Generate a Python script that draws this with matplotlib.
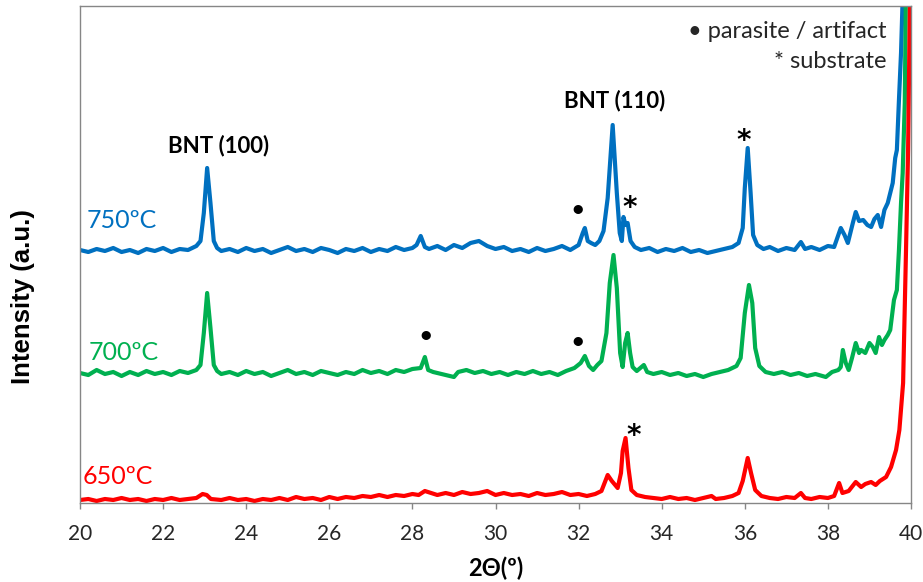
# XRD patterns of BNT films annealed at 650, 700 and 750 C.

import matplotlib
matplotlib.use('Agg')
import matplotlib.pyplot as plt

# 750 C (blue), intensity in arbitrary units
x_750 = [20.0, 20.2, 20.4, 20.6, 20.8, 21.0, 21.2, 21.4, 21.6, 21.8, 22.0, 22.2, 22.4, 22.6, 22.8,
         22.9, 22.98, 23.06, 23.14, 23.22, 23.3, 23.4, 23.6, 23.8, 24.0, 24.2, 24.4, 24.6, 24.8,
         25.0, 25.2, 25.4, 25.6, 25.8, 26.0, 26.2, 26.4, 26.6, 26.8, 27.0, 27.2, 27.4, 27.6, 27.8,
         28.0, 28.1, 28.2, 28.3, 28.4, 28.6, 28.8, 29.0, 29.2, 29.4, 29.6, 29.8, 30.0, 30.2, 30.4,
         30.6, 30.8, 31.0, 31.2, 31.4, 31.6, 31.8, 32.0, 32.1, 32.15, 32.22, 32.3, 32.4, 32.5, 32.6,
         32.7, 32.82, 32.92, 32.99, 33.04, 33.08, 33.13, 33.18, 33.25, 33.35, 33.5, 33.7, 33.9,
         34.1, 34.3, 34.5, 34.7, 34.9, 35.1, 35.3, 35.5, 35.7, 35.85, 35.95, 36.0, 36.07, 36.14,
         36.2, 36.3, 36.45, 36.6, 36.8, 37.0, 37.2, 37.35, 37.45, 37.6, 37.8, 38.0, 38.15, 38.31,
         38.4, 38.48, 38.6, 38.67, 38.75, 38.85, 38.95, 39.04, 39.12, 39.2, 39.28, 39.36, 39.44,
         39.5, 39.56, 39.62, 39.66, 39.71, 39.76, 39.81, 39.86]
y_750 = [253, 251, 254, 252, 255, 251, 253, 250, 254, 252, 255, 251, 254, 253, 257,
         262, 290, 335, 300, 262, 255, 252, 254, 251, 255, 252, 254, 250, 253,
         256, 252, 254, 251, 255, 253, 250, 254, 252, 255, 251, 254, 252, 256, 253,
         255, 258, 267, 256, 254, 257, 253, 258, 255, 260, 262, 257, 254, 256, 252,
         254, 251, 255, 252, 254, 257, 253, 258, 270, 275, 262, 260, 258, 262, 272,
         305, 378, 310, 270, 262, 286, 278, 280, 262, 256, 253, 255, 251,
         254, 252, 255, 251, 253, 250, 252, 254, 256, 260, 275, 315, 355, 310,
         268, 258, 254, 256, 252, 255, 253, 261, 254, 256, 253, 257, 256, 275,
         268, 260, 280, 291, 282, 283, 278, 276, 284, 288, 276, 293, 300,
         310, 320, 345, 353, 403, 450, 520, 600]

# 700 C (green)
x_700 = [20.0, 20.2, 20.4, 20.6, 20.8, 21.0, 21.2, 21.4, 21.6, 21.8, 22.0, 22.2, 22.4, 22.6, 22.8,
         22.9, 22.98, 23.06, 23.14, 23.22, 23.3, 23.4, 23.6, 23.8, 24.0, 24.2, 24.4, 24.6, 24.8,
         25.0, 25.2, 25.4, 25.6, 25.8, 26.0, 26.2, 26.4, 26.6, 26.8, 27.0, 27.2, 27.4, 27.6, 27.8,
         28.0, 28.2, 28.3, 28.38, 28.5, 28.7, 28.9, 29.0, 29.1, 29.3, 29.5, 29.7, 29.9, 30.1, 30.3,
         30.5, 30.7, 30.9, 31.1, 31.3, 31.5, 31.7, 31.9, 32.05, 32.15, 32.25, 32.35, 32.45, 32.55,
         32.67, 32.75, 32.84, 32.92, 33.0, 33.06, 33.12, 33.18, 33.24, 33.3, 33.4, 33.57, 33.65,
         33.8, 34.0, 34.2, 34.4, 34.6, 34.8, 35.0, 35.2, 35.4, 35.6, 35.8, 35.9, 36.0, 36.1, 36.18,
         36.25, 36.35, 36.5, 36.7, 36.9, 37.1, 37.3, 37.5, 37.7, 37.95, 38.1, 38.25, 38.31, 38.36,
         38.43, 38.5, 38.58, 38.67, 38.75, 38.8, 38.9, 39.0, 39.08, 39.15, 39.23, 39.3, 39.36,
         39.44, 39.5, 39.59, 39.66, 39.71, 39.76, 39.8, 39.85, 39.88, 39.92]
y_700 = [130, 128, 133, 129, 131, 127, 131, 128, 132, 129, 131, 128, 132, 130, 133,
         138, 170, 210, 175, 138, 132, 129, 131, 128, 132, 129, 131, 127, 130,
         133, 129, 131, 128, 132, 130, 128, 131, 129, 133, 130, 132, 129, 133, 131,
         134, 135, 146, 133, 131, 129, 127, 126, 131, 133, 130, 132, 129, 131, 128,
         131, 129, 132, 129, 131, 128, 132, 135, 140, 147, 137, 133, 138, 142,
         170, 220, 248, 215, 150, 136, 160, 170, 150, 136, 132, 138, 131,
         129, 131, 128, 130, 127, 129, 126, 129, 131, 133, 137, 145, 190, 218, 200,
         155, 137, 131, 129, 131, 128, 130, 127, 129, 126, 131, 133, 136, 153,
         140, 133, 145, 160, 150, 153, 150, 160, 156, 150, 166, 158, 163,
         168, 173, 203, 213, 253, 300, 330, 400, 520, 620]

# 650 C (red)
x_650 = [20.0, 20.2, 20.4, 20.6, 20.8, 21.0, 21.2, 21.4, 21.6, 21.8, 22.0, 22.2, 22.4, 22.6, 22.8,
         22.95, 23.05, 23.15, 23.4, 23.6, 23.8, 24.0, 24.2, 24.4, 24.6, 24.8, 25.0, 25.2, 25.4,
         25.6, 25.8, 26.0, 26.2, 26.4, 26.6, 26.8, 27.0, 27.2, 27.4, 27.6, 27.8, 28.0, 28.15, 28.3,
         28.45, 28.6, 28.8, 29.0, 29.2, 29.4, 29.6, 29.8, 30.0, 30.2, 30.4, 30.6, 30.8, 31.0, 31.2,
         31.4, 31.6, 31.8, 32.0, 32.2, 32.4, 32.55, 32.7, 32.8, 32.94, 33.02, 33.06, 33.13, 33.2,
         33.27, 33.4, 33.6, 33.8, 34.0, 34.2, 34.4, 34.6, 34.8, 35.0, 35.2, 35.3, 35.5, 35.7,
         35.85, 35.95, 36.07, 36.15, 36.25, 36.4, 36.6, 36.8, 37.0, 37.2, 37.35, 37.45, 37.6,
         37.8, 38.0, 38.15, 38.27, 38.35, 38.5, 38.67, 38.8, 38.9, 39.04, 39.15, 39.25, 39.4,
         39.52, 39.64, 39.72, 39.81, 39.88, 39.93, 39.98]
y_650 = [3, 4, 2, 4, 3, 5, 3, 4, 2, 4, 3, 5, 3, 4, 5,
         9, 8, 4, 3, 5, 3, 4, 2, 4, 3, 5, 3, 6, 4,
         5, 3, 6, 4, 6, 5, 7, 6, 8, 6, 8, 7, 9, 8, 12,
         10, 8, 10, 8, 11, 9, 10, 12, 8, 10, 8, 9, 7, 10, 8,
         9, 11, 8, 9, 7, 9, 12, 28, 22, 15, 30, 52, 65, 35,
         13, 8, 6, 5, 4, 6, 4, 5, 3, 5, 7, 4, 5, 7,
         10, 22, 45, 30, 13, 7, 5, 4, 6, 5, 10, 5, 4,
         6, 5, 7, 20, 10, 12, 21, 16, 19, 21, 18, 22, 26,
         36, 53, 73, 120, 253, 353, 520]

tick_values = [20, 22, 24, 26, 28, 30, 32, 34, 36, 38, 40]
grey = '#868686'
blue = '#0070C0'
green = '#00B050'
red = '#FF0000'

plt.rcParams['font.family'] = ['Lato', 'DejaVu Sans']

fig = plt.figure(figsize=(9.23, 5.82), dpi=100)
ax = fig.add_axes([80 / 923, 79 / 582, 831 / 923, 497 / 582])

ax.plot(x_750, y_750, color=blue, linewidth=3.0, solid_joinstyle='round')
ax.plot(x_700, y_700, color=green, linewidth=3.0, solid_joinstyle='round')
ax.plot(x_650, y_650, color=red, linewidth=3.0, solid_joinstyle='round')

ax.set_xlim(20, 40)
ax.set_ylim(0, 497)
ax.set_xticks(tick_values)
ax.set_yticks([])
ax.tick_params(axis='x', direction='out', length=4, width=1, color=grey,
               labelsize=15, labelcolor='#262626', pad=11)
for s in ax.spines.values():
    s.set_color(grey)
    s.set_linewidth(1)

# curve labels
ax.text(20.15, 283, '750ºC', color=blue, fontsize=18, va='center', ha='left')
ax.text(20.2, 151, '700ºC', color=green, fontsize=18, va='center', ha='left')
ax.text(20.07, 26, '650ºC', color=red, fontsize=18, va='center', ha='left')

# peak labels
ax.text(23.33, 357, 'BNT (100)', fontsize=16, fontweight='bold', ha='center', va='center')
ax.text(32.87, 402, 'BNT (110)', fontsize=16, fontweight='bold', ha='center', va='center')

# markers for substrate / parasite peaks
for xs, ys in [(35.98, 362), (33.23, 295), (33.33, 67)]:
    ax.text(xs, ys, '*', fontsize=20, fontweight='bold', family='DejaVu Sans',
            ha='center', va='center', color='black')
for xb, yb in [(31.98, 294), (31.98, 161), (28.31, 167)]:
    ax.text(xb, yb, '•', fontsize=18, ha='center', va='center', color='black')

# key
ax.text(39.42, 471, '• parasite / artifact', fontsize=17, ha='right', va='center', color='#262626')
ax.text(39.42, 441, '* substrate', fontsize=17, ha='right', va='center', color='#262626')

ax.set_xlabel('2Θ(º)', fontsize=17, fontweight='bold', labelpad=9)
fig.text(23 / 923, 1 - 297 / 582, 'Intensity (a.u.)', rotation=90, fontsize=18.5,
         fontweight='bold', family='Liberation Sans', ha='center', va='center')

plt.savefig('out.png', dpi=100)
